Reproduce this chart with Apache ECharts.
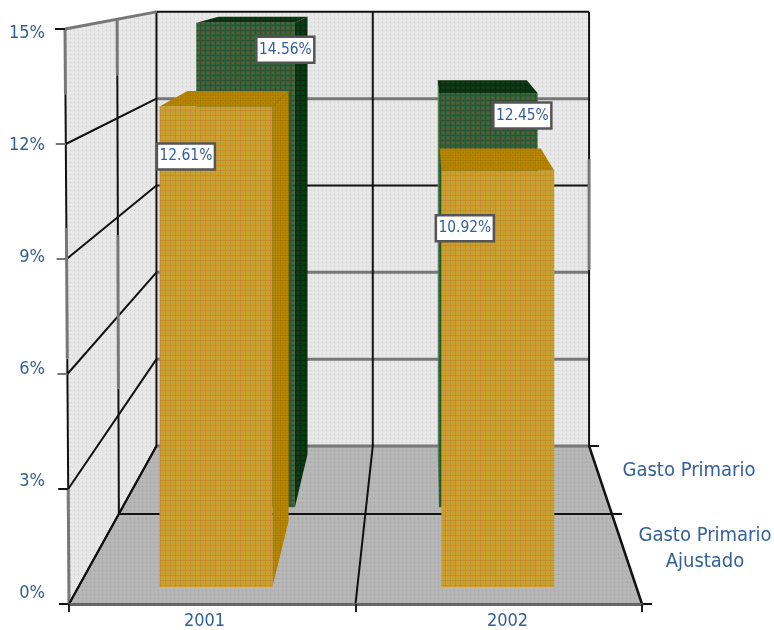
<!DOCTYPE html>
<html>
<head>
<meta charset="utf-8">
<style>html,body{margin:0;padding:0;background:#fff}#chart{width:774px;height:630px}</style>
<script src="https://cdn.jsdelivr.net/npm/echarts@6/dist/echarts.min.js"></script>
</head>
<body>
<div id="chart"></div>
<script>
// Values, in percent
const years = ['2001', '2002'];
const gastoPrimario = [14.56, 12.45];
const gastoPrimarioAjustado = [12.61, 10.92];
const axisMax = 15;
const axisStep = 3;
const gridValues = [3, 6, 9, 12];

const FONT = '"DejaVu Sans Condensed", "DejaVu Sans", sans-serif';
const INK = '#33609a';

// Perspective: the front plane is the ECharts grid; depth 0 is front, 1 is the back wall
const VX = 426, VY = -41, K = 0.3245;
const LEAN = 4;            // the front-left wall edge leans out towards the top
const BAR_RISE = 1.021;    // bars stand slightly proud of the wall grid
const BAR_RATIO = 0.405;   // bar width as a share of a category band
const project = (p, d) => {
  const s = 1 / (1 + K * d);
  return [VX + (p[0] - VX) * s, VY + (p[1] - VY) * s];
};

function tile(size, base, cross, dot) {
  const c = document.createElement('canvas');
  c.width = c.height = size;
  const g = c.getContext('2d');
  g.fillStyle = base;
  g.fillRect(0, 0, size, size);
  if (cross) {
    g.fillStyle = cross;
    g.fillRect(0, 0, size, 1);
    g.fillRect(0, 0, 1, size);
  }
  g.fillStyle = dot;
  const m = Math.floor(size / 2);
  g.fillRect(m, m, size > 4 ? 2 : 1, size > 4 ? 2 : 1);
  return { image: c, repeat: 'repeat' };
}

const fills = {
  wall: tile(4, '#e7e7e7', null, '#cdcdcd'),
  floor: tile(4, '#b6b6b6', null, '#9f9f9f'),
  goldFront: tile(5, '#d4a02c', '#c98c2c', '#a3ab3a'),
  goldShade: tile(5, '#b98600', '#ab7c00', '#a58000'),
  greenFront: tile(5, '#33633a', '#2e5233', '#665a30'),
  greenShade: tile(5, '#0d3612', '#0a2c0e', '#123c18')
};

const seg = (a, b, stroke, lineWidth) => ({
  type: 'line',
  shape: { x1: a[0], y1: a[1], x2: b[0], y2: b[1] },
  style: { stroke, lineWidth, lineCap: 'butt' }
});
const BLACK = '#111', GRAY = '#777';

// Walls, floor and their grid lines
function renderFrame(params, api) {
  const right = api.coord([1, 0])[0] + api.size([1, 0])[0] / 2;
  const leftBase = api.coord([0, 0])[0] - api.size([1, 0])[0] / 2;
  const yAt = v => api.coord([0, v])[1];
  const L = (v, d) => project([leftBase - LEAN * (v / axisMax) * (1 - d), yAt(v)], d);
  const R = (v, d) => project([right, yAt(v)], d);
  const poly = (points, fill) => ({ type: 'polygon', shape: { points }, style: { fill } });
  const mid = (leftBase + right) / 2;

  const kids = [
    poly([L(0, 0), L(axisMax, 0), L(axisMax, 1), L(0, 1)], fills.wall),
    poly([L(0, 1), L(axisMax, 1), R(axisMax, 1), R(0, 1)], fills.wall),
    poly([L(0, 0), L(0, 1), R(0, 1), R(0, 0)], fills.floor)
  ];

  // back wall
  gridValues.forEach(v => {
    kids.push(seg(L(v, 1), R(v, 1), v === 9 ? BLACK : GRAY, v === 9 ? 2 : 3));
  });
  kids.push(seg(L(axisMax, 1), R(axisMax, 1), BLACK, 2));
  kids.push(seg(L(0, 1), R(0, 1), GRAY, 3));
  kids.push(seg(L(0, 1), L(axisMax, 1), BLACK, 2));
  kids.push(seg(project([mid, yAt(0)], 1), project([mid, yAt(axisMax)], 1), BLACK, 2));
  kids.push(seg(R(0, 1), R(6.1, 1), BLACK, 2));
  kids.push(seg(R(6.1, 1), R(9.9, 1), GRAY, 3));
  kids.push(seg(R(9.9, 1), R(axisMax, 1), BLACK, 2));

  // left wall, ribs running back from the axis
  kids.push(seg(L(axisMax, 0), L(axisMax, 1), GRAY, 3));
  [0, 3, 6, 9, 12].forEach(v => kids.push(seg(L(v, 0), L(v, 1), BLACK, 2)));

  // left wall uprights, alternating dark and pale stretches
  const upright = (d, firstBlack, stops) => {
    for (let i = 0; i < stops.length - 1; i++) {
      const black = (i % 2 === 0) === firstBlack;
      kids.push(seg(L(stops[i], d), L(stops[i + 1], d), black ? BLACK : GRAY, black ? 2 : 3));
    }
  };
  upright(0.5, true, [0, 3.8, 8.45, 13.3, axisMax]);
  upright(0, false, [0, 3, 6.4, 9.8, 13.3, axisMax]);

  // floor
  kids.push(seg(L(0, 0.5), R(0, 0.5), BLACK, 2));
  kids.push(seg(L(0, 0), L(0, 1), BLACK, 2));
  kids.push(seg(R(0, 0), R(0, 1), BLACK, 2.5));
  kids.push(seg(project([mid, yAt(0)], 0), project([mid, yAt(0)], 1), BLACK, 2));

  // outward ticks: value axis and depth axis
  for (let v = 0; v <= axisMax; v += axisStep) {
    const p = L(v, 0);
    kids.push(seg([p[0] - 10, p[1]], [p[0], p[1]], v === 12 || v === 9 || v === 6 ? GRAY : BLACK, 2));
  }
  [0, 0.5, 1].forEach(d => {
    const p = R(0, d);
    kids.push(seg(p, [p[0] + 10, p[1]], BLACK, 2));
  });
  return { type: 'group', children: kids };
}

// One projected box with its value tag
function boxRenderer(opt) {
  return function (params, api) {
    const cat = api.value(0), val = api.value(1);
    const c = api.coord([cat, val]);
    const base = api.coord([cat, 0])[1];
    const half = api.size([1, 0])[0] * BAR_RATIO / 2;
    const cx0 = c[0] + opt.slide[params.dataIndex];
    const x0 = cx0 - half, x1 = cx0 + half;
    const top = base - (base - c[1]) * BAR_RISE;
    const P = (x, y, d) => project([x, y], d);
    const poly = (points, fill) => ({ type: 'polygon', shape: { points }, style: { fill } });
    const kids = [];

    // side face turned towards the viewer
    const sideFill = x1 < VX ? opt.shade : opt.leftEdge;
    if (sideFill) {
      const sx = x1 < VX ? x1 : x0;
      kids.push(poly([P(sx, base, opt.near), P(sx, top, opt.near), P(sx, top, opt.far), P(sx, base, opt.far)], sideFill));
    }
    kids.push(poly([P(x0, top, opt.near), P(x1, top, opt.near), P(x1, top, opt.far), P(x0, top, opt.far)], opt.shade));
    kids.push(poly([P(x0, base, opt.near), P(x1, base, opt.near), P(x1, top, opt.near), P(x0, top, opt.near)], opt.front));

    const nudge = opt.tag[params.dataIndex];
    const anchor = P(c[0], top, opt.near);
    const cx = anchor[0] + nudge[0], cy = anchor[1] + nudge[1];
    kids.push({
      type: 'rect',
      shape: { x: cx - 29, y: cy - 13, width: 58, height: 26 },
      style: { fill: '#fff', stroke: '#555', lineWidth: 2.5 }
    });
    kids.push({
      type: 'text',
      style: {
        text: val.toFixed(2) + '%', x: cx, y: cy,
        align: 'center', verticalAlign: 'middle',
        fill: INK, font: '15.4px ' + FONT
      }
    });
    return { type: 'group', children: kids };
  };
}

const chart = echarts.init(document.getElementById('chart'), null, { renderer: 'canvas' });
chart.setOption({
  animation: false,
  backgroundColor: '#fff',
  grid: [
    // the drawing plane
    { left: 69, right: 132, top: 29, bottom: 26 },
    // axis captions sit on their own, slightly tighter scale
    { left: 53, width: 606, top: 33, height: 562 }
  ],
  xAxis: [
    {
      type: 'category',
      data: years,
      z: 5,
      axisLine: { lineStyle: { color: '#666', width: 3 } },
      axisTick: { show: true, length: 8, lineStyle: { color: '#222', width: 2 } },
      axisLabel: { show: false }
    },
    {
      gridIndex: 1,
      type: 'category',
      data: years,
      axisLine: { show: false },
      axisTick: { show: false },
      axisLabel: { color: INK, fontFamily: FONT, fontSize: 18, margin: 19 }
    }
  ],
  yAxis: [
    {
      type: 'value', min: 0, max: axisMax, interval: axisStep,
      splitLine: { show: false }, axisLine: { show: false }, axisTick: { show: false },
      axisLabel: { show: false }
    },
    {
      gridIndex: 1,
      type: 'value', min: 0, max: axisMax, interval: axisStep,
      splitLine: { show: false }, axisLine: { show: false }, axisTick: { show: false },
      axisLabel: { formatter: '{value}%', color: INK, fontFamily: FONT, fontSize: 18, margin: 8 }
    }
  ],
  graphic: [
    { type: 'text', x: 689, y: 471, style: { text: 'Gasto Primario', align: 'center', verticalAlign: 'middle', fill: INK, font: '20px ' + FONT } },
    { type: 'text', x: 705, y: 549, style: { text: 'Gasto Primario\nAjustado', align: 'center', verticalAlign: 'middle', lineHeight: 26, fill: INK, font: '20px ' + FONT } }
  ],
  series: [
    { type: 'custom', silent: true, data: [[0, 0]], encode: { x: 0, y: 1 }, renderItem: renderFrame },
    {
      name: 'Gasto Primario', type: 'custom', silent: true,
      data: gastoPrimario.map((v, i) => [i, v]), encode: { x: 0, y: 1 },
      renderItem: boxRenderer({
        near: 0.5438, far: 0.9308, front: fills.greenFront, shade: fills.greenShade, leftEdge: '#4d8550',
        slide: [1.5, 0.5], tag: [[41, 27], [34.5, 22.5]]
      })
    },
    {
      name: 'Gasto Primario Ajustado', type: 'custom', silent: true,
      data: gastoPrimarioAjustado.map((v, i) => [i, v]), encode: { x: 0, y: 1 },
      renderItem: boxRenderer({
        near: 0.0836, far: 0.4558, front: fills.goldFront, shade: fills.goldShade,
        slide: [-2, 1], tag: [[-32, 50], [-32, 57.5]]
      })
    }
  ]
});
</script>
</body>
</html>
